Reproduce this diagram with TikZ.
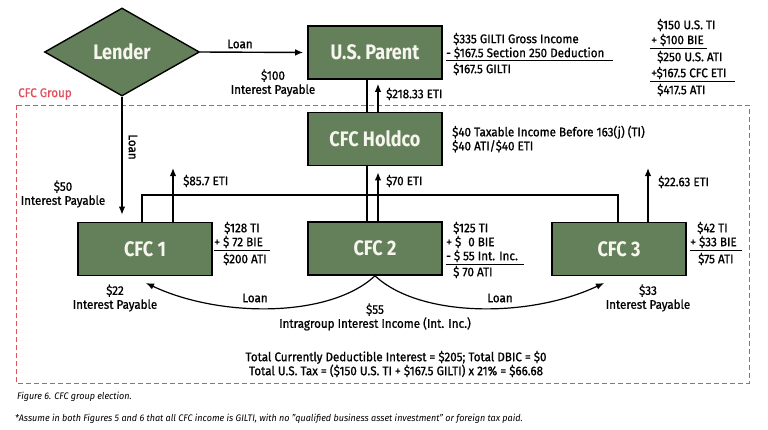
\documentclass[tikz,border=0pt]{standalone}
\usepackage{fontspec}
\setmainfont{Fira Sans}[FakeStretch=0.95]
\newfontfamily\labf{Fira Sans}[FakeStretch=0.93, FakeBold=1.0]
\newfontfamily\boxf{Fira Sans}[FakeStretch=0.86]
\usetikzlibrary{shapes.geometric,arrows.meta}
\definecolor{boxgreen}{HTML}{64805A}
\definecolor{grpred}{HTML}{E0505C}
\definecolor{boxtext}{HTML}{F6F6EE}
\tikzset{
  ent/.style={draw=black, line width=1.6pt, fill=boxgreen, minimum width=134pt, minimum height=53pt,
    text=boxtext, font=\boxf\fontsize{21}{24}\selectfont\bfseries, inner sep=0pt},
  lbl/.style={font=\labf\fontsize{12.5}{14}\selectfont, inner sep=0pt, text=black, align=center},
  lblw/.style={lbl, anchor=west, align=left},
  arr/.style={line width=1.4pt, -{Latex[length=8pt,width=6.5pt]}},
  ln/.style={line width=1.4pt},
  rule/.style={line width=0.9pt},
  capt/.style={anchor=west, inner sep=0pt, font=\fontsize{9.5}{11}\selectfont\itshape},
}
\begin{document}
\begin{tikzpicture}[x=1pt,y=-1pt]
\useasboundingbox (0,0) rectangle (768,429);
% group box
\draw[grpred, line width=1pt, dash pattern=on 5pt off 3pt] (16,105) rectangle (749,383);
\node[lblw, text=grpred] (grp) at (18,94) {CFC Group};
% entities
\node[diamond, draw=black, line width=1.4pt, fill=boxgreen, minimum width=155pt, minimum height=88pt,
  inner sep=0pt, text=boxtext, font=\boxf\fontsize{21}{24}\selectfont\bfseries] (lender) at (122,52) {Lender};
\node[ent] (parent) at (375,52.5) {U.S. Parent};
\node[ent] (holdco) at (375,139) {CFC Holdco};
\node[ent] (cfc1) at (145,249) {CFC 1};
\node[ent] (cfc2) at (375,248.5) {CFC 2};
\node[ent] (cfc3) at (619,249) {CFC 3};
% connectors
\draw[arr, shorten >=4pt] (lender.east) -- (parent.west);
\draw[arr, shorten >=7pt] (lender.south) -- (cfc1.north -| lender.south);
\draw[ln] ([xshift=-8pt]parent.south) -- ([xshift=-8pt]holdco.north);
\draw[arr, shorten >=4pt] ([xshift=3pt]holdco.north) -- ([xshift=3pt]parent.south);
\draw[ln] ([xshift=-8pt]holdco.south) -- ([xshift=-8pt]cfc2.north);
\draw[arr, shorten >=6pt] ([xshift=3pt]cfc2.north) -- ([xshift=3pt]holdco.south);
\coordinate (busL) at (142,195);
\coordinate (busR) at (618,195);
\draw[ln] (cfc1.north -| busL) -- (busL) -- (busR) -- (cfc3.north -| busR);
\coordinate (e1) at (173,168);
\coordinate (e3) at (648,168);
\draw[arr] (cfc1.north -| e1) -- (e1);
\draw[arr] (cfc3.north -| e3) -- (e3);
\coordinate (l1end) at (146,283);
\coordinate (l3end) at (604,283);
\draw[arr, line width=1.2pt] (cfc2.south) .. controls (330,318) and (220,318) .. (l1end);
\draw[arr, line width=1.2pt] (cfc2.south) .. controls (420,318) and (530,318) .. (l3end);
% labels
\node[lbl] (loan0) at (240,44) {Loan};
\node[lbl] (ip100) at (273,83) {\$100\\Interest Payable};
\node[lbl, rotate=-90] (loan1) at (133,147) {Loan};
\node[lbl] (ip50) at (63,194) {\$50\\Interest Payable};
\node[lblw] (eti1) at (183,181) {\$85.7 ETI};
\node[lblw] (etip) at (386,94) {\$218.33 ETI};
\node[lblw] (eti2) at (386,181) {\$70 ETI};
\node[lblw] (eti3) at (658,182) {\$22.63 ETI};
\node[lblw] (holdtxt) at (452,139) {\$40 Taxable Income Before 163(j) (TI)\\\$40 ATI/\$40 ETI};
% parent calc
\node[lblw] (p1) at (453,39) {\$335 GILTI Gross Income};
\node[lblw] (p2) at (446,53) {- \$167.5 Section 250 Deduction};
\draw[rule] (446,60) -- (613,60);
\node[lblw] (p3) at (453,69) {\$167.5 GILTI};
% right block
\node[lblw] (r1) at (657,25) {\$150 U.S. TI};
\node[lblw] (r2) at (651,40) {+ \$100 BIE};
\draw[rule] (650,48) -- (707,48);
\node[lblw] (r3) at (657,57) {\$250 U.S. ATI};
\node[lblw] (r4) at (651,73) {+\$167.5 CFC ETI};
\draw[rule] (650,81) -- (735,81);
\node[lblw] (r5) at (657,90) {\$417.5 ATI};
% CFC1 calc
\node[lblw] (a1) at (224,228) {\$128 TI};
\node[lblw] (a2) at (214,242) {+ \$ 72 BIE};
\draw[rule] (214,250) -- (270,250);
\node[lblw] (a3) at (223,259) {\$200 ATI};
% CFC2 calc
\node[lblw] (b1) at (453,228) {\$125 TI};
\node[lblw] (b2) at (446,242) {+ \$\hspace{7pt}0 BIE};
\node[lblw] (b3) at (446,256) {- \$\hspace{3pt}55 Int. Inc.};
\draw[rule] (446,264) -- (524,264);
\node[lblw] (b4) at (453,272) {\$ 70 ATI};
% CFC3 calc
\node[lblw] (c1) at (697,228) {\$42 TI};
\node[lblw] (c2) at (690,242) {+ \$33 BIE};
\draw[rule] (690,250) -- (742,250);
\node[lblw] (c3) at (698,259) {\$75 ATI};
% loans
\node[lbl] (loanL) at (255,298) {Loan};
\node[lbl] (loanR) at (500,298) {Loan};
\node[lbl] (ip22) at (115,298) {\$22\\Interest Payable};
\node[lbl] (ip33) at (648,298) {\$33\\Interest Payable};
\node[lbl] (int55) at (375,317) {\$55\\Intragroup Interest Income (Int. Inc.)};
% totals
\node[lbl] (tot) at (396,364) {Total Currently Deductible Interest = \$205; Total DBIC = \$0\\Total U.S. Tax = (\$150 U.S. TI + \$167.5 GILTI) x 21\% = \$66.68};
\node[capt] (fig) at (17,397) {Figure 6. CFC group election.};
\node[capt] (note) at (15,419) {*Assume in both Figures 5 and 6 that all CFC income is GILTI, with no "qualified business asset investment" or foreign tax paid.};
\end{tikzpicture}
\end{document}
